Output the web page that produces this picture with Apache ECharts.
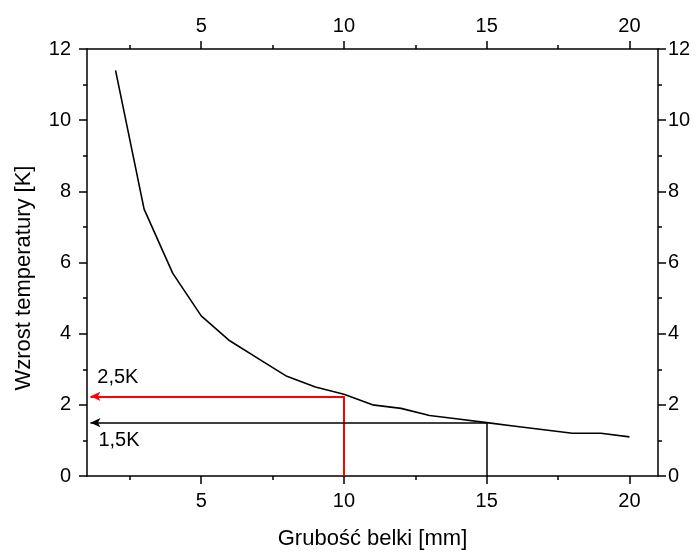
<!DOCTYPE html>
<html><head><meta charset="utf-8">
<script src="https://cdn.jsdelivr.net/npm/echarts@6/dist/echarts.min.js"></script>
<style>html,body{margin:0;padding:0;background:#fff}#c{width:700px;height:554px}</style>
</head><body><div id="c"></div>
<script>
// data
var thickness = [2,3,4,5,6,7,8,9,10,11,12,13,14,15,16,17,18,19,20];
var tempRise  = [11.4,7.5,5.7,4.5,3.8,3.3,2.8,2.5,2.3,2.0,1.9,1.7,1.6,1.5,1.4,1.3,1.2,1.2,1.1];
var xMajorTicks = [5,10,15,20];
var xMinorTicks = [2.5,7.5,12.5,17.5];
var xTitle = 'Grubość belki [mm]';
var yTitle = 'Wzrost temperatury [K]';
// annotations: [x at curve, y level, arrow tip x]
var redGuide = [10, 2.24, 1.12];
var blackGuide = [15, 1.5, 1.12];
var annoText = ['2,5K', '1,5K'];
var annoPos = [[1.36, 2.76], [1.40, 1.0]];

var FONT = '"Liberation Sans", Arial, sans-serif';
var chart = echarts.init(document.getElementById('c'), null, {renderer:'canvas'});
var gridRect = {left:87, right:42, top:49, bottom:78};
function xAx(grid, pos, ticks, labels, len){
  return {type:'value', gridIndex:grid, position:pos, min:1, max:21,
    axisLine:{show:labels, onZero:false, lineStyle:{color:'#000', width:1.5}},
    axisTick:{show:true, inside:false, length:len, customValues:ticks, lineStyle:{color:'#000', width:1.5}},
    axisLabel:{show:labels, customValues:ticks, color:'#000', fontSize:20, fontFamily:FONT, margin: pos==='bottom'?15:13},
    splitLine:{show:false}};
}
function yAx(grid, pos, show){
  return {type:'value', gridIndex:grid, position:pos, min:0, max:12, interval:2, show:show,
    axisLine:{show:true, onZero:false, lineStyle:{color:'#000', width:1.5}},
    axisTick:{show:true, inside:false, length:8, lineStyle:{color:'#000', width:1.5}},
    minorTick:{show:true, splitNumber:2, length:4, lineStyle:{color:'#000', width:1.5}},
    axisLabel:{show:true, color:'#000', fontSize:20, fontFamily:FONT, margin: pos==='left'?16:10},
    splitLine:{show:false}, minorSplitLine:{show:false}};
}
function guide(g){
  return [
    [{coord:[g[0],0], symbol:'none'},{coord:[g[0],g[1]], symbol:'none'}],
    [{coord:[g[0],g[1]], symbol:'none'},{coord:[g[2],g[1]], symbol:'arrow', symbolSize:[7,10]}]
  ];
}
var plotCx = gridRect.left + (700 - gridRect.left - gridRect.right)/2;
var option = {
  animation:false,
  grid:[Object.assign({}, gridRect), Object.assign({}, gridRect)],
  xAxis:[xAx(0,'bottom',xMajorTicks,true,8), xAx(0,'top',xMajorTicks,true,8),
         xAx(1,'bottom',xMinorTicks,false,4), xAx(1,'top',xMinorTicks,false,4)],
  yAxis:[yAx(0,'left',true), yAx(0,'right',true), {type:'value',gridIndex:1,min:0,max:12,show:false}],
  series:[
    {type:'line', xAxisIndex:0, yAxisIndex:0, showSymbol:false, symbol:'none',
     lineStyle:{color:'#000', width:1.6},
     data: thickness.map(function(x,i){return [x, tempRise[i]];})},
    {type:'line', xAxisIndex:0, yAxisIndex:0, data:[],
     markLine:{silent:true, animation:false, label:{show:false}, symbol:'none',
       lineStyle:{color:'#ff0000', width:2, type:'solid'}, data: guide(redGuide)}},
    {type:'line', xAxisIndex:0, yAxisIndex:0, data:[],
     markLine:{silent:true, animation:false, label:{show:false}, symbol:'none',
       lineStyle:{color:'#000', width:1.5, type:'solid'}, data: guide(blackGuide)}},
    {type:'scatter', xAxisIndex:0, yAxisIndex:0, symbolSize:0, silent:true,
     itemStyle:{opacity:1, color:'#000'},
     data: annoPos.map(function(p,i){return {value:p, name:annoText[i]};}),
     label:{show:true, position:'right', distance:0, formatter:'{b}', color:'#000', opacity:1, fontSize:20, fontFamily:FONT}}
  ],
  graphic:[
    {type:'text', x:plotCx, y:539, style:{text:xTitle, fontSize:22, fontFamily:FONT, fill:'#000', textAlign:'center', textVerticalAlign:'middle'}},
    {type:'text', rotation:Math.PI/2, x:24, y:278, style:{text:yTitle, fontSize:22, fontFamily:FONT, fill:'#000', textAlign:'center', textVerticalAlign:'middle'}}
  ]
};
chart.setOption(option);
</script></body></html>
